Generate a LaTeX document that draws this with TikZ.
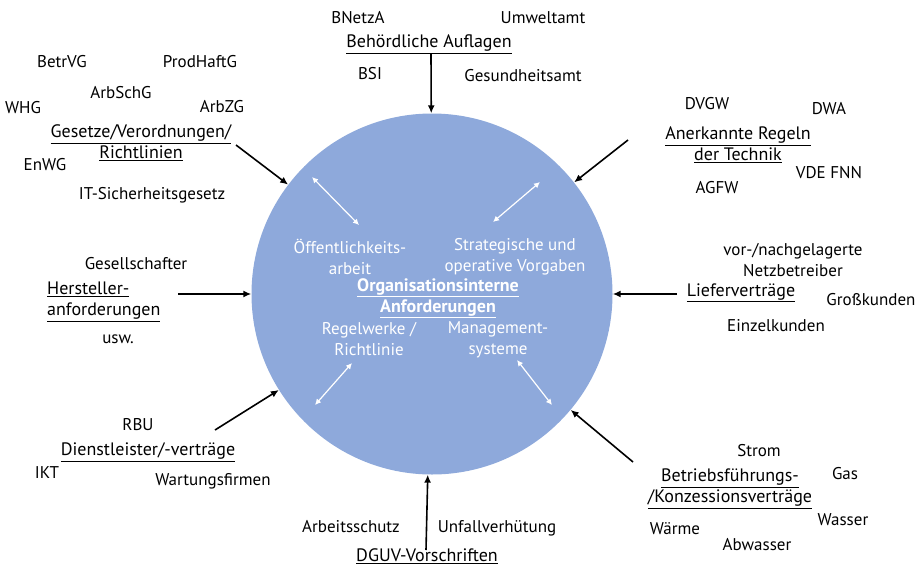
\documentclass[tikz,border=0pt]{standalone}
\usepackage{fontspec}
\setmainfont{PT Sans}
\usetikzlibrary{arrows.meta}
\definecolor{kreisblau}{RGB}{142,169,219}

\begin{document}
\begin{tikzpicture}[x=1pt, y=-1pt,
    lbl/.style={inner sep=1pt, font=\fontsize{17}{21}\selectfont, align=center},
    head/.style={lbl, font=\fontsize{18}{21}\selectfont},
    innen/.style={lbl, text=white, font=\fontsize{17}{21}\selectfont},
    pfeil/.style={-{Latex[length=8pt, width=7pt]}, line width=1.6pt},
    wpfeil/.style={{Latex[length=6pt, width=6pt]}-{Latex[length=6pt, width=6pt]}, line width=1.2pt, white}]
\useasboundingbox (0,0) rectangle (918,568);
\node[circle, fill=kreisblau, minimum size=361pt, inner sep=0pt] (kreis) at (432,294) {};
% innen
\node[innen] (oeff) at (350,257) {Öffentlichkeits-\\arbeit};
\node[innen] (strat) at (515,257) {Strategische und\\operative Vorgaben};
\node[innen, font=\fontsize{18}{21}\selectfont\bfseries] (org) at (438,298) {\underline{Organisationsinterne}\\\underline{Anforderungen}};
\node[innen] (regel) at (369,339) {Regelwerke /\\Richtlinie};
\node[innen] (mgmt) at (498,340) {Management-\\systeme};
\draw[wpfeil] (312,177) -- (359,225);
\draw[wpfeil] (540,182) -- (493,222);
\draw[wpfeil] (352,363) -- (315,405);
\draw[wpfeil] (517,360) -- (552,405);
% oben
\node[head] (beh) at (429,44) {\underline{Behördliche Auflagen}};
\node[lbl] (bnetza) at (358,18) {BNetzA};
\node[lbl] (umwelt) at (543,18) {Umweltamt};
\node[lbl] (bsi) at (370,74) {BSI};
\node[lbl] (gesund) at (523,76) {Gesundheitsamt};
\coordinate (pbeh) at (431,54);
\draw[pfeil] (pbeh) -- (kreis);
% links oben
\node[head] (gesetze) at (141,143) {\underline{Gesetze/Verordnungen/}\\\underline{Richtlinien}};
\node[lbl] (betrvg) at (62,62) {BetrVG};
\node[lbl] (prodhaft) at (200,62) {ProdHaftG};
\node[lbl] (arbschg) at (121,93) {ArbSchG};
\node[lbl] (whg) at (23,108) {WHG};
\node[lbl] (arbzg) at (222,107) {ArbZG};
\node[lbl] (enwg) at (45,165) {EnWG};
\node[lbl] (itsig) at (152,195) {IT-Sicherheitsgesetz};
\coordinate (pges) at (236,145);
\draw[pfeil] (pges) -- (kreis);
% rechts oben
\node[head] (regeln) at (738,145) {\underline{Anerkannte Regeln}\\\underline{der Technik}};
\node[lbl] (dvgw) at (707,104) {DVGW};
\node[lbl] (dwa) at (829,109) {DWA};
\node[lbl] (vde) at (829,173) {VDE FNN};
\node[lbl] (agfw) at (717,188) {AGFW};
\coordinate (preg) at (628,140);
\draw[pfeil] (preg) -- (kreis);
% links
\node[head, align=left, anchor=west] (herst) at (46,302) {\underline{Hersteller-}\\\underline{anforderungen}};
\node[lbl] (gesell) at (136,264) {Gesellschafter};
\node[lbl] (usw) at (118,339) {usw.};
\coordinate (pher) at (178,294);
\draw[pfeil] (pher) -- (kreis);
% rechts
\node[head] (liefer) at (741,293) {\underline{Lieferverträge}};
\node[lbl] (vor) at (793,260) {vor-/nachgelagerte\\Netzbetreiber};
\node[lbl] (gross) at (871,300) {Großkunden};
\node[lbl] (einzel) at (776,326) {Einzelkunden};
\coordinate (plief) at (677,294);
\draw[pfeil] (plief) -- (kreis);
% links unten
\node[head] (dienst) at (148,452) {\underline{Dienstleister/-verträge}};
\node[lbl] (rbu) at (138,425) {RBU};
\node[lbl] (ikt) at (47,473) {IKT};
\node[lbl] (wartung) at (213,481) {Wartungsfirmen};
\coordinate (pdie) at (215,430);
\draw[pfeil] (pdie) -- (kreis);
% unten
\node[head] (dguv) at (427,556) {\underline{DGUV-Vorschriften}};
\node[lbl] (arbschutz) at (351,527) {Arbeitsschutz};
\node[lbl] (unfall) at (497,528) {Unfallverhütung};
\coordinate (pdguv) at (426,550);
\draw[pfeil] (pdguv) -- (kreis);
% rechts unten
\node[head] (betrieb) at (730,489) {\underline{Betriebsführungs-}\\\underline{/Konzessionsverträge}};
\node[lbl] (strom) at (759,451) {Strom};
\node[lbl] (gas) at (845,474) {Gas};
\node[lbl] (wasser) at (843,520) {Wasser};
\node[lbl] (waerme) at (675,529) {Wärme};
\node[lbl] (abwasser) at (757,545) {Abwasser};
\coordinate (pbet) at (633,462);
\draw[pfeil] (pbet) -- (kreis);
\end{tikzpicture}
\end{document}
